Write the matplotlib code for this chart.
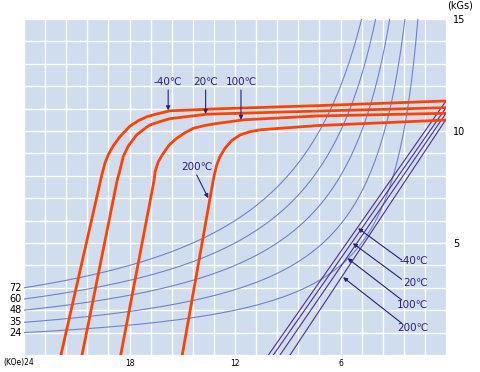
import matplotlib.pyplot as plt
import numpy as np

# Demagnetization curves (H in kOe, B in kGs)
TEMPS = ['-40℃', '20℃', '100℃', '200℃']

H_M40 = [21.9, 19.6, 19.4, 19.2, 18.93, 18.54, 18.0, 17.5, 17.0, 16.46,
         15.7, 13.0, 7.35, 0.0]
B_M40 = [0.0, 7.95, 8.56, 8.95, 9.33, 9.75, 10.2, 10.46, 10.64, 10.76,
         10.9, 10.99, 11.13, 11.34]

H_20 = [20.7, 18.7, 18.54, 18.36, 18.07, 17.6, 17.2, 16.84, 16.27, 15.7,
        13.6, 7.35, 0.0]
B_20 = [0.0, 7.8, 8.26, 8.85, 9.33, 9.82, 10.07, 10.27, 10.42, 10.55,
        10.75, 10.89, 11.04]

H_100 = [18.5, 16.6, 16.55, 16.36, 16.08, 15.74, 15.32, 14.85, 14.37, 13.7,
         13.0, 11.5, 7.35, 0.0]
B_100 = [0.0, 7.8, 8.18, 8.63, 9.0, 9.38, 9.67, 9.92, 10.12, 10.25,
         10.34, 10.5, 10.67, 10.79]

H_200 = [15.0, 13.24, 13.2, 13.04, 12.86, 12.57, 12.19, 11.72, 11.15, 10.48,
         7.35, 0.0]
B_200 = [0.0, 7.8, 7.96, 8.48, 8.85, 9.23, 9.57, 9.82, 9.97, 10.06,
         10.24, 10.49]

# normal B-H lines: from (0, Br) down to (Hcb, 0)
BR = [11.34, 11.04, 10.79, 10.52]
HCB = [10.1, 9.82, 9.44, 8.87]

# constant energy product lines (MGOe)
ENERGY = [24, 35, 48, 60, 72]

RED = '#ff4200'
BLUE = '#7282c8'
PURPLE = '#4f2f92'
TXT = '#2e1f78'

fig = plt.figure(figsize=(4.8, 3.72), dpi=100)
ax = fig.add_axes([24 / 480, 17 / 372, 422 / 480, 336 / 372])
ax.set_facecolor('#cfddef')
ax.set_xlim(24, 0)
ax.set_ylim(0, 15)

# grid every 1.2 kOe and 1 kGs
ax.set_xticks(np.arange(0, 24.01, 1.2), minor=True)
ax.set_xticks([18, 12, 6])
ax.set_xticklabels(['18', '12', '6'], fontsize=5.5)
ax.set_yticks(np.arange(0, 15.01, 1.0), minor=True)
ax.set_yticks([5, 10, 15])
ax.set_yticklabels(['5', '10', '15'], fontsize=7)
ax.yaxis.tick_right()
ax.tick_params(which='both', length=0)
ax.tick_params(axis='x', pad=3)
ax.tick_params(axis='y', pad=5)
ax.grid(True, which='both', color='white', linewidth=1.0)
ax.set_axisbelow(True)
for s in ax.spines.values():
    s.set_visible(False)

# energy product hyperbolas
hh = np.linspace(0.5, 24, 300)
for e in ENERGY:
    ax.plot(hh, e / hh, color=BLUE, lw=0.8)
    ax.text(24.15, e / 24, str(e), ha='right', va='center', fontsize=7)

# normal curves
for br, hc in zip(BR, HCB):
    ax.plot([0, hc], [br, 0], color=PURPLE, lw=0.8)

# intrinsic curves
for h, b in [(H_M40, B_M40), (H_20, B_20), (H_100, B_100), (H_200, B_200)]:
    ax.plot(h, b, color=RED, lw=2.0, solid_joinstyle='round')

arrow = dict(arrowstyle='-|>', color=TXT, lw=0.8, mutation_scale=6,
             shrinkA=0, shrinkB=0)

# labels on the top curves
top_h = [15.8, 13.67, 11.66]
top_tip = [10.92, 10.76, 10.5]
for t, h, tip in zip(TEMPS[:3], top_h, top_tip):
    ax.text(h, 12.2, t, ha='center', va='center', fontsize=7.5, color=TXT)
    ax.annotate('', xy=(h, tip), xytext=(h, 11.83), arrowprops=arrow)
ax.text(14.18, 8.38, TEMPS[3], ha='center', va='center', fontsize=7.5,
        color=TXT)
ax.annotate('', xy=(13.52, 7.0), xytext=(14.18, 8.04), arrowprops=arrow)

# labels on the normal lines
tips = [(5.0, 5.66), (5.3, 4.99), (5.6, 4.32), (5.85, 3.47)]
starts = [4.24, 3.38, 2.46, 1.42]
text_y = [4.2, 3.23, 2.23, 1.22]
for t, tip, sy, ty in zip(TEMPS, tips, starts, text_y):
    ax.text(1.0, ty, t, ha='right', va='center', fontsize=7.5, color=TXT)
    ax.annotate('', xy=tip, xytext=(2.52, sy), arrowprops=arrow)

fig.text(34 / 480, 1 - 362 / 372, '(KOe)24', ha='right', va='center',
         fontsize=5.5)
fig.text(460 / 480, 1 - 6 / 372, '(kGs)', ha='center', va='center', fontsize=7)

fig.savefig('out.png', dpi=100)
